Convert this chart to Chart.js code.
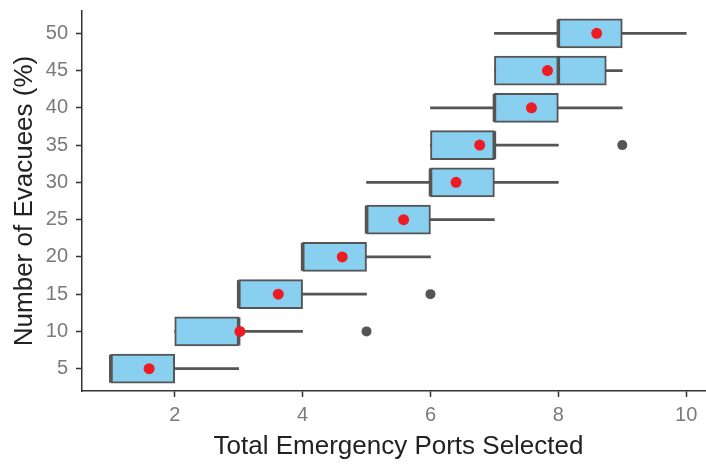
<!DOCTYPE html>
<html>
<head>
<meta charset="utf-8">
<script src="https://cdn.jsdelivr.net/npm/chart.js@4.4.1/dist/chart.umd.min.js"></script>
<style>
  html, body { margin: 0; padding: 0; background: #fff; overflow: hidden; }
  canvas { display: block; }
</style>
</head>
<body>
<!-- painel do ggplot passa um pouco da borda direita, por isso 715 -->
<canvas id="grafico" width="715" height="464"></canvas>
<script>
// evacuee groups (y axis) and box statistics per group (x axis)
const evacuees = [5, 10, 15, 20, 25, 30, 35, 40, 45, 50];
const whiskerLow = [1, 2, 3, 4, 5, 5, 6, 6, 7, 7];
const q1 = [1, 2, 3, 4, 5, 6, 6, 7, 7, 8];
const median = [1, 3, 3, 4, 5, 6, 7, 7, 8, 8];
const q3 = [2, 3, 4, 5, 6, 7, 7, 8, 8.75, 9];
const whiskerHigh = [3, 4, 5, 6, 7, 8, 8, 9, 9, 10];
const means = [1.6, 3.02, 3.62, 4.62, 5.58, 6.4, 6.77, 7.58, 7.83, 8.6];

// outliers
const outlierGroup = [10, 15, 35];
const outlierValue = [5, 6, 9];

// tick labels
const xTicks = [2, 4, 6, 8, 10];
const yTicks = evacuees;

const fonte = "'Liberation Sans', Arial, sans-serif";
const cinza = "#555555";

const ctx = document.getElementById("grafico").getContext("2d");

new Chart(ctx, {
  type: "bar",
  data: {
    datasets: [
      {
        type: "scatter",
        label: "Média",
        data: evacuees.map((e, i) => ({ x: means[i], y: e })),
        pointStyle: "circle",
        pointRadius: 5.5,
        pointHoverRadius: 5.5,
        backgroundColor: "#ED1C24",
        borderColor: "#ED1C24",
        borderWidth: 0,
        order: 0
      },
      {
        type: "scatter",
        label: "Outliers",
        data: outlierGroup.map((g, i) => ({ x: outlierValue[i], y: g })),
        pointStyle: "circle",
        pointRadius: 5,
        pointHoverRadius: 5,
        backgroundColor: cinza,
        borderWidth: 0,
        order: 1
      },
      {
        type: "scatter",
        label: "Mediana",
        data: evacuees.map((e, i) => ({ x: median[i], y: e })),
        pointStyle: "line",
        rotation: 90,
        pointRadius: 14,
        pointHoverRadius: 14,
        borderColor: cinza,
        borderWidth: 3.5,
        order: 2
      },
      {
        label: "Caixa",
        grouped: false,
        data: evacuees.map((e, i) => ({ x: [q1[i], q3[i]], y: e })),
        backgroundColor: "#89CFF0",
        borderColor: cinza,
        borderWidth: 2,
        borderSkipped: false,
        barThickness: 29,
        order: 3
      },
      {
        label: "Bigode",
        grouped: false,
        data: evacuees.map((e, i) => ({ x: [whiskerLow[i], whiskerHigh[i]], y: e })),
        backgroundColor: cinza,
        borderWidth: 0,
        barThickness: 2,
        order: 4
      }
    ]
  },
  options: {
    indexAxis: "y",
    responsive: false,
    devicePixelRatio: 1,
    animation: false,
    layout: { padding: { top: 11, left: 0, right: 0, bottom: 0 }, autoPadding: false },
    plugins: {
      legend: { display: false },
      tooltip: { enabled: false },
      title: { display: false }
    },
    scales: {
      x: {
        type: "linear",
        position: "bottom",
        offset: false,
        min: 0.55,
        max: 10.45,
        afterBuildTicks: s => { s.ticks = xTicks.map(v => ({ value: v })); },
        afterFit: s => { s.height = 73; s.paddingLeft = 0; s.paddingRight = 0; },
        grid: {
          offset: false,
          drawOnChartArea: false,
          drawTicks: true,
          tickLength: 6,
          tickColor: "#333",
          tickWidth: 1.5
        },
        border: { display: true, color: "#333", width: 1.5 },
        ticks: {
          color: "#7a7a7a",
          padding: 6,
          font: { family: fonte, size: 20 }
        },
        title: {
          display: true,
          text: "Total Emergency Ports Selected",
          color: "#222",
          font: { family: fonte, size: 26, lineHeight: 1 },
          padding: { top: 0, bottom: 4 }
        }
      },
      y: {
        type: "linear",
        position: "left",
        offset: false,
        min: 2,
        max: 53,
        afterBuildTicks: s => { s.ticks = yTicks.map(v => ({ value: v })); },
        afterFit: s => { s.width = 82; s.paddingTop = 0; s.paddingBottom = 0; },
        grid: {
          offset: false,
          drawOnChartArea: false,
          drawTicks: true,
          tickLength: 6,
          tickColor: "#333",
          tickWidth: 1.5
        },
        border: { display: true, color: "#333", width: 1.5 },
        ticks: {
          color: "#7a7a7a",
          padding: 8,
          font: { family: fonte, size: 20 }
        },
        title: {
          display: true,
          text: "Number of Evacuees (%)",
          color: "#222",
          font: { family: fonte, size: 26, lineHeight: 1 },
          padding: { top: 12, bottom: 0 }
        }
      }
    }
  }
});
</script>
</body>
</html>
